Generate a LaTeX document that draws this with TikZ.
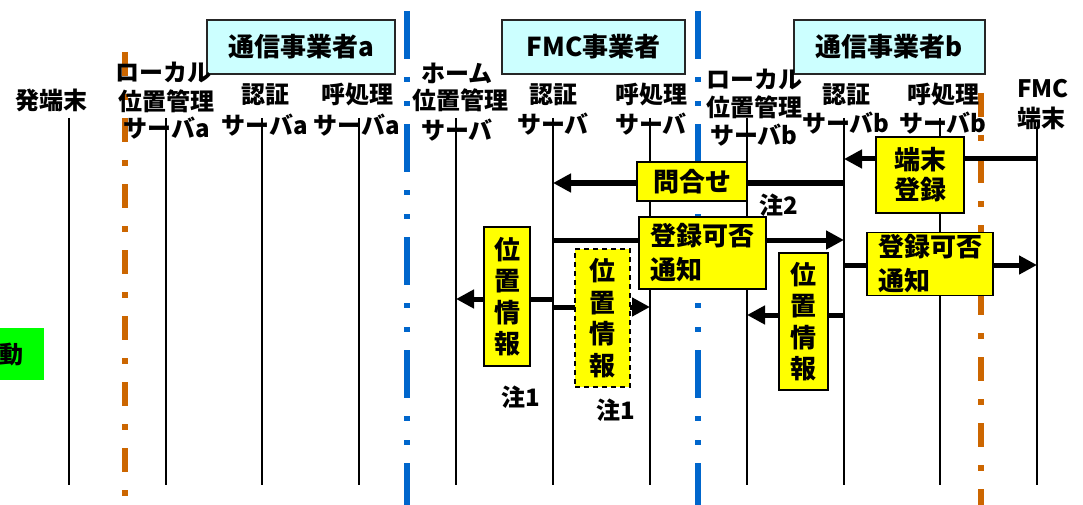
\documentclass[tikz,border=0pt]{standalone}
\usepackage{fontspec}
\setmainfont{Noto Sans CJK JP}
\usetikzlibrary{arrows.meta}
\definecolor{boxyellow}{HTML}{FFFF00}
\definecolor{hdrcyan}{HTML}{CCFFFF}
\definecolor{sepblue}{HTML}{0066CC}
\definecolor{seporange}{HTML}{CC6600}
\definecolor{actgreen}{HTML}{00FF00}
\begin{document}
\begin{tikzpicture}[x=1pt,y=-1pt,
  hdrbox/.style={draw=black!85,line width=1.6pt,fill=hdrcyan,inner sep=0pt,
    font=\bfseries\fontsize{26}{30}\selectfont},
  lbl/.style={inner sep=0pt,font=\bfseries\fontsize{24}{28}\selectfont},
  note/.style={inner sep=0pt,font=\bfseries\fontsize{24}{28}\selectfont},
  msgbox/.style={draw=black,line width=1.8pt,fill=boxyellow,inner sep=0pt,
    font=\bfseries\fontsize{26}{34}\selectfont},
  vbox/.style={msgbox,align=center,font=\bfseries\fontsize{26}{31.5}\selectfont},
  lifeline/.style={line width=1.6pt,black},
  msgarrow/.style={line width=5pt,-{Triangle[length=18pt,width=18pt]}},
  sepo/.style={seporange,line width=6pt,dash pattern=on 24pt off 18pt on 6pt off 18pt},
  sepb/.style={sepblue,line width=6pt,dash pattern=on 48pt off 18pt on 5pt off 19pt on 5pt off 18pt}]
\useasboundingbox (0,0) rectangle (1083,505);

% separators
\coordinate (so1t) at (125,52);  \coordinate (so1b) at (125,505);
\coordinate (so2t) at (981,93);  \coordinate (so2b) at (981,505);
\coordinate (sb1t) at (407,11);  \coordinate (sb1b) at (407,505);
\coordinate (sb2t) at (698,11);  \coordinate (sb2b) at (698,505);
\draw[sepo] (so1t) -- (so1b);
\draw[sepo] (so2t) -- (so2b);
\draw[sepb] (sb1t) -- (sb1b);
\draw[sepb] (sb2t) -- (sb2b);

% lifelines
\foreach \i/\x/\t in {1/69/118,2/166/118,3/262/118,4/359/118,5/456/118,6/553/118,
                      7/650/118,8/747/118,9/844/118,10/940/118,11/1037/128}{
  \coordinate (top\i) at (\x,\t);
  \coordinate (bot\i) at (\x,485);
  \draw[lifeline] (top\i) -- (bot\i);
}

% header boxes
\node[hdrbox,minimum width=188,minimum height=54] (hdra) at (301,47) {通信事業者a};
\node[hdrbox,minimum width=183,minimum height=54] (hdrf) at (593.5,47) {FMC事業者};
\node[hdrbox,minimum width=191,minimum height=54] (hdrb) at (889.5,47) {通信事業者b};

% lifeline labels
\node[lbl] (l1) at (51,100) {発端末};
\node[lbl] (l2a) at (163,72) {ローカル};
\node[lbl] (l2b) at (166,101) {位置管理};
\node[lbl] (l2c) at (167,128) {サーバa};
\node[lbl] (l3a) at (265,95) {認証};
\node[lbl] (l3b) at (265,125) {サーバa};
\node[lbl] (l4a) at (357,95) {呼処理};
\node[lbl] (l4b) at (357,125) {サーバa};
\node[lbl] (l5a) at (457,73) {ホーム};
\node[lbl] (l5b) at (460,100) {位置管理};
\node[lbl] (l5c) at (457,130) {サーバ};
\node[lbl] (l6a) at (553,95) {認証};
\node[lbl] (l6b) at (553,124) {サーバ};
\node[lbl] (l7a) at (651,95) {呼処理};
\node[lbl] (l7b) at (651,124) {サーバ};
\node[lbl] (l8a) at (754,79) {ローカル};
\node[lbl] (l8b) at (754,107) {位置管理};
\node[lbl] (l8c) at (754,135) {サーバb};
\node[lbl] (l9a) at (846,95) {認証};
\node[lbl] (l9b) at (846,123) {サーバb};
\node[lbl] (l10a) at (943,95) {呼処理};
\node[lbl] (l10b) at (943,123) {サーバb};
\node[lbl,anchor=west] (l11a) at (1017,89) {FMC};
\node[lbl,anchor=west] (l11b) at (1017,118) {端末};

% green activity box (cut at the left edge)
\node[fill=actgreen,inner sep=0pt,minimum width=44,minimum height=52,anchor=north west] (act) at (0,328) {};
\node[lbl] (actl) at (11,355) {動};

% messages
\coordinate (m1a) at (1037,159); \coordinate (m1b) at (844,159);
\coordinate (m2a) at (844,183);  \coordinate (m2b) at (553,183);
\coordinate (m3a) at (553,240);  \coordinate (m3b) at (844,240);
\coordinate (m4a) at (844,265);  \coordinate (m4b) at (1037,265);
\coordinate (m5a) at (553,299);  \coordinate (m5b) at (456,299);
\coordinate (m6a) at (553,307);  \coordinate (m6b) at (650,307);
\coordinate (m7a) at (844,315);  \coordinate (m7b) at (747,315);
\draw[msgarrow] (m1a) -- (m1b);
\draw[msgarrow] (m2a) -- (m2b);
\draw[msgarrow] (m3a) -- (m3b);
\draw[msgarrow] (m4a) -- (m4b);
\draw[msgarrow] (m5a) -- (m5b);
\draw[msgarrow] (m6a) -- (m6b);
\draw[msgarrow] (m7a) -- (m7b);

% message boxes
\node[msgbox,align=center,font=\bfseries\fontsize{26}{30}\selectfont,minimum width=88,minimum height=76] (b1) at (920,175) {端末\\登録};
\node[msgbox,minimum width=110,minimum height=39] (b2) at (692,181.5) {問合せ};
\node[msgbox,align=left,minimum width=127,minimum height=72] (b3) at (702.5,253) {登録可否\\通知};
\node[msgbox,align=left,minimum width=126,minimum height=63] (b4) at (930,264) {登録可否\\通知};
\node[vbox,minimum width=46,minimum height=139] (b5) at (507,296.5) {位\\置\\情\\報};
\node[vbox,dashed,dash pattern=on 5pt off 4pt,minimum width=55,minimum height=138] (b6) at (602.5,318) {位\\置\\情\\報};
\node[vbox,minimum width=49,minimum height=137] (b7) at (803.5,321.5) {位\\置\\情\\報};

% notes
\node[note] (n2) at (779,205) {注2};
\node[note] (n1a) at (521,397) {注1};
\node[note] (n1b) at (616,410) {注1};
\end{tikzpicture}
\end{document}
